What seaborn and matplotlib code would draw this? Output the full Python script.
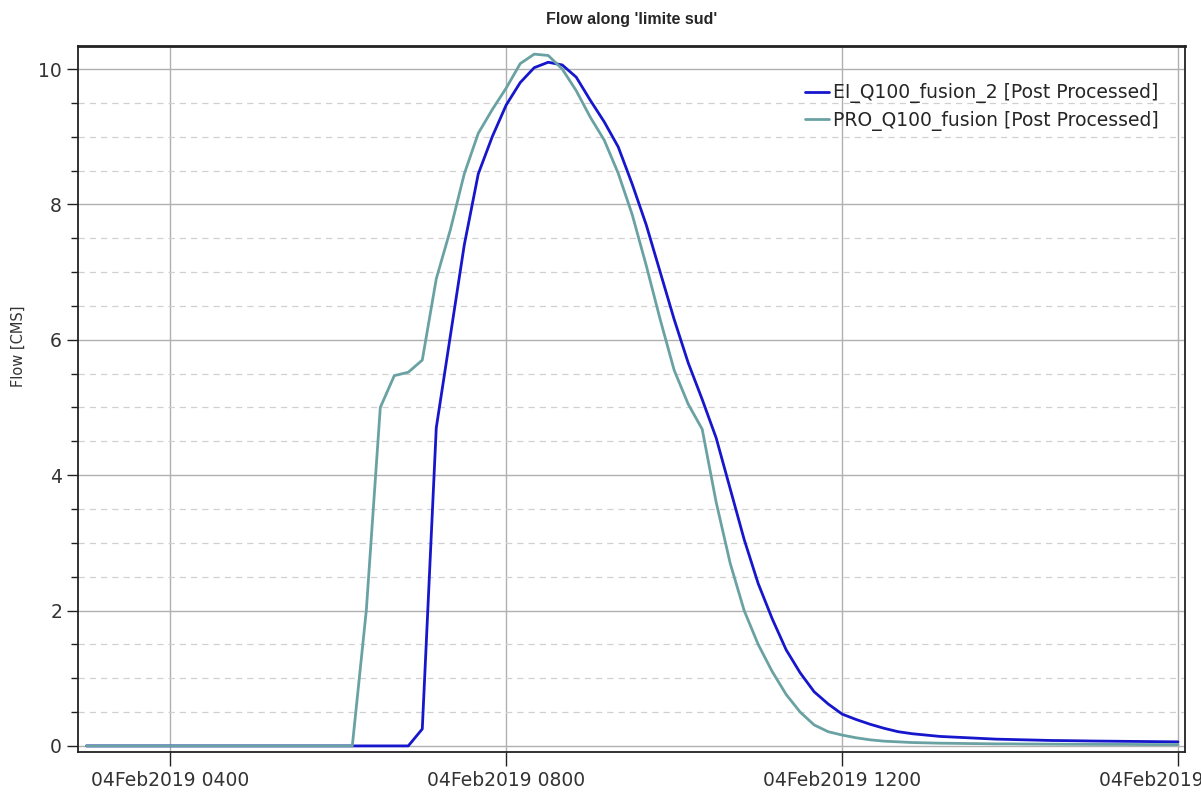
import pandas as pd
import matplotlib.pyplot as plt
import matplotlib.dates as mdates
from matplotlib.ticker import MultipleLocator
import seaborn as sns

# time axis: 10-minute steps on 04 Feb 2019
start_time = "2019-02-04 03:00"
end_time = "2019-02-04 16:00"
step = "10min"

# flow [CMS]
ei_flow = [0] * 24 + [
    0.25, 4.7, 6.05, 7.4, 8.45, 9.0, 9.47, 9.8, 10.02, 10.1,
    10.06, 9.88, 9.54, 9.22, 8.85, 8.3, 7.7, 7.0, 6.3, 5.66,
    5.12, 4.55, 3.8, 3.05, 2.4, 1.88, 1.42, 1.08, 0.8, 0.62,
    0.47, 0.39, 0.32, 0.26, 0.21, 0.18, 0.16, 0.14, 0.13, 0.12,
    0.11, 0.10, 0.095, 0.09, 0.085, 0.08, 0.078, 0.075, 0.072, 0.07,
    0.068, 0.066, 0.064, 0.062, 0.06,
]
pro_flow = [0] * 20 + [
    2.0, 5.0, 5.47, 5.52, 5.7, 6.9, 7.62, 8.45, 9.05, 9.4,
    9.72, 10.08, 10.22, 10.2, 10.0, 9.68, 9.29, 8.95, 8.46, 7.85,
    7.1, 6.3, 5.55, 5.05, 4.68, 3.6, 2.7, 2.0, 1.5, 1.1,
    0.76, 0.5, 0.31, 0.21, 0.16, 0.12, 0.09, 0.07, 0.06, 0.05,
    0.045, 0.04, 0.038, 0.035, 0.033, 0.03, 0.03, 0.028, 0.027, 0.026,
    0.025, 0.024, 0.023, 0.022, 0.022, 0.021, 0.02, 0.02, 0.02,
]

series_names = ["EI_Q100_fusion_2 [Post Processed]", "PRO_Q100_fusion [Post Processed]"]
series_colors = ["#1616cc", "#6aa2a3"]

times = pd.date_range(start_time, end_time, freq=step)
df = pd.DataFrame({"time": times, series_names[0]: ei_flow, series_names[1]: pro_flow})
long_df = df.melt(id_vars="time", var_name="series", value_name="flow")

sns.set_theme(style="white")
plt.rcParams["font.family"] = ["DejaVu Sans"]

fig = plt.figure(figsize=(12.01, 7.96), dpi=100)
ax = fig.add_axes([78 / 1201, 44 / 796, 1107 / 1201, 706 / 796])

sns.lineplot(data=long_df, x="time", y="flow", hue="series",
             palette=dict(zip(series_names, series_colors)),
             linewidth=2.0, ax=ax)

ax.set_xlim(pd.Timestamp("2019-02-04 02:54"), pd.Timestamp("2019-02-04 16:05"))
ax.set_ylim(-0.09, 10.34)

ax.xaxis.set_major_locator(mdates.HourLocator(byhour=[4, 8, 12, 16]))
ax.xaxis.set_major_formatter(mdates.DateFormatter("%d%b%Y %H%M"))
ax.yaxis.set_major_locator(MultipleLocator(2))
ax.yaxis.set_minor_locator(MultipleLocator(0.5))

ax.grid(which="major", axis="both", color="#b0b0b0", linewidth=1.0)
ax.grid(which="minor", axis="y", color="#d0d0d0", linestyle=(0, (5, 4)), linewidth=0.9)
ax.set_axisbelow(True)

ax.tick_params(axis="x", which="major", direction="out", length=10, width=1,
               color="#222222", labelsize=13.5, labelcolor="#333333", bottom=True)
ax.tick_params(axis="y", which="major", direction="out", length=8, width=1,
               color="#222222", labelsize=13.5, labelcolor="#333333", left=True)
ax.tick_params(axis="y", which="minor", direction="out", length=5, width=1,
               color="#222222", left=True)

for side, spine in ax.spines.items():
    spine.set_visible(True)
    spine.set_color("#222222")
    spine.set_linewidth(1.3)
ax.spines["top"].set_linewidth(2.0)

ax.set_xlabel("")
ax.set_ylabel("Flow [CMS]", fontsize=10.5, color="#333333")
ax.yaxis.set_label_coords(-0.047, 0.575)
ax.set_title("Flow along 'limite sud'", fontsize=11.5, fontweight="bold",
             family=["Liberation Sans", "DejaVu Sans"], pad=16)

ax.legend(loc="upper right", bbox_to_anchor=(0.983, 0.958), frameon=False,
          fontsize=13.5, handlelength=1.3, handletextpad=0.2, labelspacing=0.42,
          borderaxespad=0)

plt.savefig("out.png", dpi=100)
plt.close()
